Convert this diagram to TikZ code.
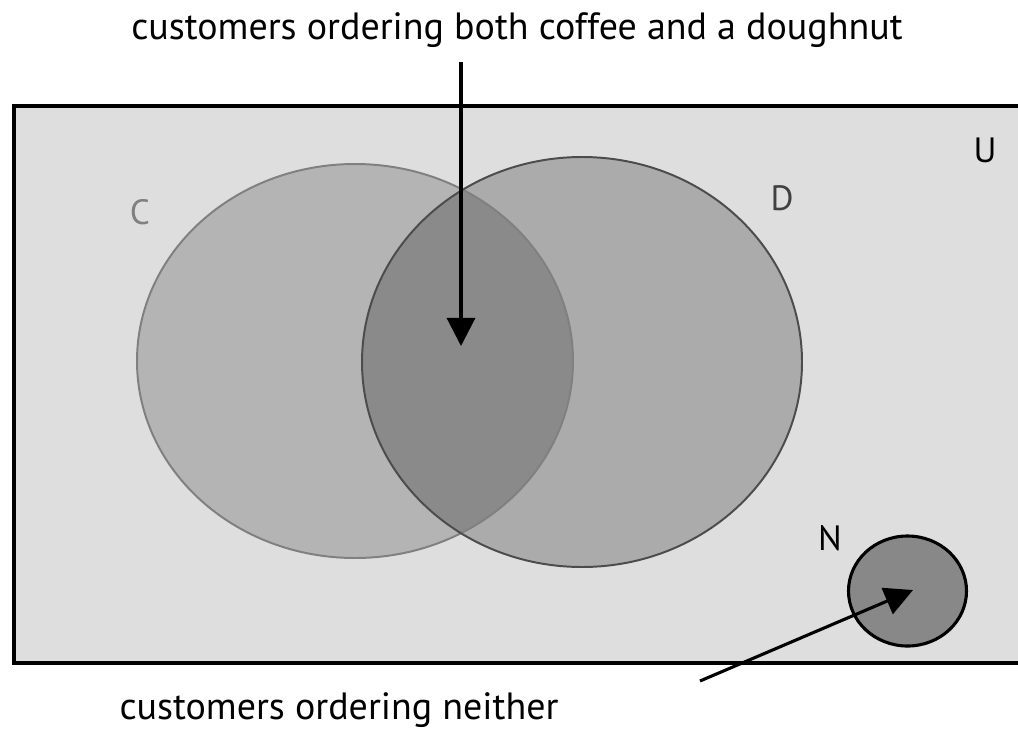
\documentclass[tikz,border=0pt]{standalone}
\usepackage{fontspec}
\setmainfont{PT Sans}
\usetikzlibrary{arrows.meta}

\definecolor{bggray}{HTML}{DEDEDE}
\definecolor{cgray}{HTML}{B4B4B4}
\definecolor{dgray}{HTML}{ABABAB}
\definecolor{bothgray}{HTML}{8A8A8A}
\definecolor{ngray}{HTML}{888888}

\tikzset{
  label text/.style={font=\fontsize{27}{31}\selectfont, inner sep=0pt},
  set name/.style={font=\fontsize{25}{29}\selectfont, inner sep=0pt},
  pointer/.style={line width=2.2pt, -{Triangle[length=20pt,width=20pt]}},
}

\begin{document}
\begin{tikzpicture}[x=0.025cm, y=-0.025cm]
        \useasboundingbox (0,0) rectangle (1018,738);
        \begin{scope}
            \clip (0,0) rectangle (1018,738);
            \draw[line width=2.8pt, fill=bggray] (14,106) rectangle (1040,663);
        \end{scope}

        % the two sets
        \fill[cgray] (355,361) ellipse [x radius=218, y radius=197];
        \fill[dgray] (582,362) ellipse [x radius=220, y radius=205];
        \begin{scope}
            \clip (355,361) ellipse [x radius=218, y radius=197];
            \fill[bothgray] (582,362) ellipse [x radius=220, y radius=205];
        \end{scope}
        \draw[line width=1.4pt, black!50] (355,361) ellipse [x radius=218, y radius=197];
        \draw[line width=1.4pt, black!70] (582,362) ellipse [x radius=220, y radius=205];
        \draw[line width=2.2pt, fill=ngray] (907.5,591) ellipse [x radius=59, y radius=55];

        \node[set name, text=black!50] (c) at (140,212) {C};
        \node[set name, text=black!75] (d) at (782,198) {D};
        \node[set name] (u) at (985,150) {U};
        \node[set name] (n) at (830,538) {N};

        \node[label text] (both) at (517,30) {customers ordering both coffee and a doughnut};
        \node[label text] (neither) at (339,710) {customers ordering neither};
        \coordinate (bothtip) at (461,346);
        \coordinate (neithertail) at (700,681);
        \coordinate (neithertip) at (913,590);

        \draw[pointer] (461,62) -- (bothtip);
        \draw[pointer] (neithertail) -- (neithertip);
\end{tikzpicture}
\end{document}
